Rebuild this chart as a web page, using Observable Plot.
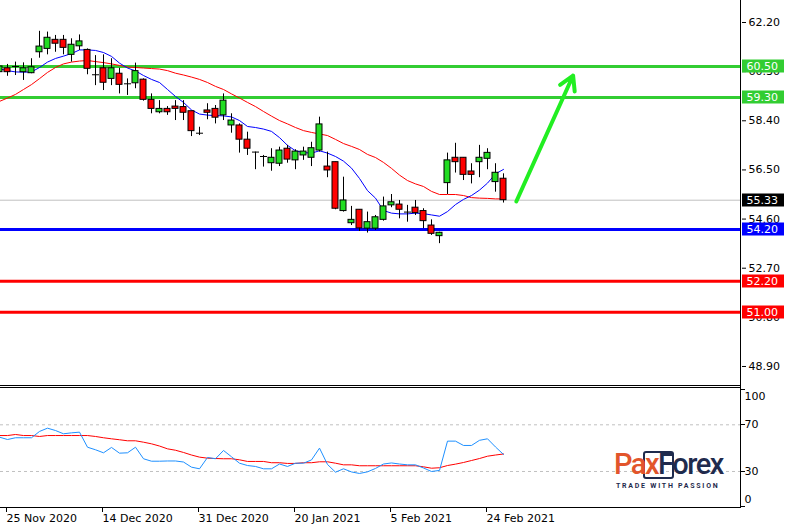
<!DOCTYPE html>
<html><head><meta charset="utf-8">
<script src="https://cdn.jsdelivr.net/npm/d3@7"></script>
<script src="https://cdn.jsdelivr.net/npm/@observablehq/plot@0.6"></script>
<style>
body{margin:0;background:#fff;}
#chart{position:relative;width:788px;height:528px;overflow:hidden;background:#fff;font-family:"DejaVu Sans",sans-serif;}
#chart svg{display:block;}
#logo{position:absolute;left:614px;top:450px;font-family:Roboto,sans-serif;font-weight:500;font-size:29px;line-height:29px;letter-spacing:-1.5px;color:#1f2b4d;white-space:nowrap;}
#logo .o{color:#e2552b;}
#fbox{position:absolute;left:643px;top:451px;width:27px;height:24px;border:2px solid #1f2b4d;border-radius:3px;}
#tag{position:absolute;left:616px;top:482.5px;font-family:Roboto,sans-serif;font-weight:700;font-size:7px;line-height:7px;letter-spacing:1.75px;color:#1f2b4d;white-space:nowrap;}
</style></head><body><div id="chart"></div>
<script>
// ---- data ----
const dates = ["2020-11-24","2020-11-25","2020-11-27","2020-11-30",
"2020-12-01","2020-12-02","2020-12-03","2020-12-04","2020-12-07","2020-12-08","2020-12-09","2020-12-10","2020-12-11","2020-12-14","2020-12-15","2020-12-16","2020-12-17","2020-12-18","2020-12-21","2020-12-22","2020-12-23","2020-12-24","2020-12-28","2020-12-29","2020-12-30","2020-12-31",
"2021-01-04","2021-01-05","2021-01-06","2021-01-07","2021-01-08","2021-01-11","2021-01-12","2021-01-13","2021-01-14","2021-01-15","2021-01-19","2021-01-20","2021-01-21","2021-01-22","2021-01-25","2021-01-26","2021-01-27","2021-01-28","2021-01-29",
"2021-02-01","2021-02-02","2021-02-03","2021-02-04","2021-02-05","2021-02-08","2021-02-09","2021-02-10","2021-02-11","2021-02-12","2021-02-16","2021-02-17","2021-02-18","2021-02-19","2021-02-22","2021-02-23","2021-02-24","2021-02-25","2021-02-26"];
const openPx  = [60.28,60.43,60.50,60.28,60.24,61.05,61.18,61.53,61.53,60.95,61.28,61.14,60.18,60.43,60.02,60.22,59.83,59.85,59.99,59.21,58.73,58.86,58.95,58.93,58.77,57.92,58.80,58.86,58.61,58.22,58.22,57.67,57.19,57.02,56.76,56.74,57.32,56.87,57.06,56.97,57.25,56.63,56.80,54.91,54.44,54.96,54.23,54.23,54.57,55.13,55.16,54.87,55.04,54.91,54.35,53.94,55.99,56.97,56.97,56.44,56.80,56.93,56.03,56.16];
const highPx  = [60.60,60.58,60.67,60.64,60.80,61.86,61.83,61.70,61.70,61.57,61.72,61.18,60.92,60.95,60.80,60.43,60.02,60.63,60.02,59.44,59.18,58.95,59.18,59.18,58.77,58.15,59.06,58.99,59.44,58.67,58.28,57.96,57.19,57.06,57.32,57.38,57.45,57.28,57.38,57.57,58.54,57.19,56.80,56.22,55.09,54.96,54.87,54.74,55.45,55.55,55.32,55.13,55.32,55.00,54.57,54.09,57.15,57.53,56.97,56.74,57.45,57.32,56.74,56.35];
const lowPx   = [60.15,60.12,60.15,59.96,60.22,60.82,60.95,61.05,60.95,60.67,61.12,60.18,59.76,59.57,59.76,59.44,59.38,59.64,59.16,58.67,58.67,58.61,58.41,58.41,57.79,57.83,58.44,58.28,58.41,57.92,57.15,57.06,56.51,56.61,56.45,56.63,56.76,56.51,56.87,56.63,57.19,56.20,54.96,54.87,54.35,54.12,54.06,54.16,54.52,55.04,54.61,54.48,54.74,54.23,53.97,53.65,55.55,56.38,56.09,55.96,56.20,56.51,55.64,55.22];
const closePx = [60.50,60.28,60.50,60.43,60.47,61.27,61.61,61.38,61.22,61.34,61.47,60.41,60.18,59.87,60.43,59.79,59.83,60.32,59.21,58.86,58.86,58.73,58.86,58.71,58.00,57.92,58.71,58.52,59.18,58.41,57.67,57.32,57.19,57.02,56.97,57.25,56.90,57.21,57.21,57.34,58.26,56.48,55.00,55.32,54.57,54.24,54.48,54.67,55.09,55.25,54.96,54.87,54.83,54.52,54.03,54.07,56.87,56.80,56.31,56.31,56.97,57.16,56.39,55.33];
const maFast = [60.41,60.34,60.29,60.28,60.29,60.46,60.67,60.81,60.90,61.00,61.14,61.14,61.12,61.04,60.89,60.63,60.44,60.33,60.15,60.00,59.88,59.61,59.34,59.11,58.82,58.66,58.62,58.60,58.59,58.55,58.41,58.18,58.14,58.08,57.99,57.75,57.45,57.24,57.17,57.15,57.24,57.15,57.02,56.84,56.57,56.17,55.70,55.41,54.93,54.83,54.80,54.80,54.83,54.81,54.76,54.71,54.89,55.16,55.36,55.51,55.72,55.99,56.35,56.52];
const maSlow = [59.15,59.28,59.42,59.61,59.80,60.03,60.27,60.46,60.60,60.67,60.71,60.73,60.69,60.65,60.60,60.54,60.48,60.46,60.44,60.42,60.40,60.34,60.24,60.17,60.09,60.00,59.88,59.73,59.61,59.44,59.28,59.11,58.95,58.76,58.58,58.41,58.28,58.14,58.02,57.95,57.89,57.83,57.68,57.52,57.41,57.29,57.10,56.98,56.79,56.56,56.30,56.09,55.96,55.86,55.67,55.55,55.55,55.55,55.51,55.43,55.41,55.40,55.38,55.38];
const rsi = [59.4,57.4,58.9,58.9,58.9,64.3,67.1,65.1,62.3,63.1,63.7,50.8,48.6,46.0,50.6,45.7,46.0,50.8,40.9,38.8,38.8,39.0,39.0,38.1,33.7,32.3,42.0,40.9,48.0,42.6,37.1,35.1,34.3,32.3,32.3,36.4,34.3,37.1,37.1,39.9,50.0,36.0,29.4,32.3,29.6,28.3,29.7,32.6,36.4,37.3,36.4,35.7,35.7,33.0,30.0,30.9,56.0,56.0,52.3,52.3,56.7,58.0,51.0,44.6];
const rsiSignal = [60.8,60.8,61.7,60.8,60.8,60.0,60.8,60.8,60.8,60.8,60.8,60.8,60.0,58.9,58.0,57.2,56.3,56.3,55.1,53.7,51.8,49.4,48.2,46.3,44.1,42.3,41.4,41.1,40.9,40.9,40.0,38.6,38.6,38.6,37.5,37.5,36.9,36.9,37.5,37.5,38.3,38.3,37.1,35.7,35.7,34.9,34.9,34.9,34.9,34.9,34.9,34.9,34.9,34.0,32.8,33.2,35.1,36.3,37.7,39.4,41.1,43.1,44.1,45.0];
const tickDates = ["2020-11-25","2020-12-14","2020-12-31","2021-01-20","2021-02-05","2021-02-24"];
const priceTicks = [62.20,60.30,58.40,56.50,54.60,52.70,50.80,48.90];
const levels = [60.50,59.30,54.20,52.20,51.00];
const levelColors = ["#32cd32","#32cd32","#0000ff","#ff0000","#ff0000"];
const lastPrice = 55.33;
const rsiLevels = [30,70];
const rsiTicks = [0,30,70,100];
const arrowStart = {i:64.6, price:55.28};
const arrowEnd = {i:71.7, price:60.15};

// ---- build ----
const bars = dates.map((date,i)=>({i,date,open:openPx[i],high:highPx[i],low:lowPx[i],close:closePx[i],
  maFast:maFast[i],maSlow:maSlow[i],rsi:rsi[i],rsiSignal:rsiSignal[i]}));
const bodies = bars.filter(d=>d.open!==d.close);
const dojis = bars.filter(d=>d.open===d.close);
const levelRows = levels.map((v,k)=>({v,c:levelColors[k]}));
const tickIdx = tickDates.map(d=>dates.indexOf(d));
const fmtDate = d3.utcFormat("%-d %b %Y");
const W=788, AXX=740.5;
const xDomain=[0.125, 92.75];
const GREEN="#22dd22", RED="#ff0000";
const font={fontFamily:"DejaVu Sans, sans-serif",fontSize:"11px",background:"#fff",color:"#000"};
const rsiShift = v => v===100 ? 7 : v===0 ? -7 : 0;

const main = Plot.plot({
  width:W, height:386, marginTop:0, marginBottom:2, marginLeft:0, marginRight:47,
  x:{type:"linear", domain:xDomain, axis:null},
  y:{domain:[48.204,63.051], axis:null},
  color:{type:"identity"},
  style:font,
  marks:[
    Plot.ruleY([lastPrice],{stroke:"#c0c0c0",strokeWidth:1}),
    Plot.ruleY(levelRows,{y:"v",stroke:"c",strokeWidth:3}),
    Plot.line(bars,{x:"i",y:"maSlow",stroke:"#ff0000",strokeWidth:1,clip:true}),
    Plot.line(bars,{x:"i",y:"maFast",stroke:"#0000ff",strokeWidth:1,clip:true}),
    Plot.ruleX(bars,{x:"i",y1:"low",y2:"high",stroke:"#000",strokeWidth:1,clip:true}),
    Plot.rect(bodies,{x1:d=>d.i-0.375,x2:d=>d.i+0.375,y1:"open",y2:"close",
      fill:d=>d.close>d.open?GREEN:RED,stroke:"#000",strokeWidth:1,clip:true}),
    Plot.ruleY(dojis,{y:"open",x1:d=>d.i-0.375,x2:d=>d.i+0.5,stroke:"#000",strokeWidth:1,clip:true}),
    Plot.arrow([{a:arrowStart,b:arrowEnd}],{x1:d=>d.a.i,y1:d=>d.a.price,x2:d=>d.b.i,y2:d=>d.b.price,
      stroke:"#22ee22",strokeWidth:4,headLength:6,headAngle:60}),
    Plot.axisY({anchor:"right",ticks:priceTicks,tickFormat:d=>d.toFixed(2),tickSize:4,tickPadding:3,label:null})
  ]
});

const lower = Plot.plot({
  width:W, height:142, marginTop:2, marginBottom:21, marginLeft:0, marginRight:47,
  x:{type:"linear", domain:xDomain, axis:null},
  y:{domain:[-0.86,101.1], axis:null},
  style:font,
  marks:[
    Plot.ruleY(rsiLevels,{stroke:"#c0c0c0",strokeDasharray:"3,3"}),
    Plot.line(bars,{x:"i",y:"rsiSignal",stroke:"#ff0000",strokeWidth:1}),
    Plot.line(bars,{x:"i",y:"rsi",stroke:"#1e90ff",strokeWidth:1}),
    Plot.axisX({anchor:"bottom",ticks:tickIdx,tickFormat:i=>fmtDate(new Date(dates[i])),tickSize:5,tickPadding:2,textAnchor:"start",dx:-1,label:null}),
    Plot.text(rsiTicks,{y:d=>d,text:d=>String(d),frameAnchor:"right",textAnchor:"start",dx:3,fill:"#000"})
  ]
});

// fine-tune oscillator end labels (100 drawn below top edge, 0 above bottom edge)
d3.select(lower).selectAll("text").each(function(){
  const t=this.textContent;
  if(t==="100"||t==="0"){
    d3.select(this).attr("transform",(d3.select(this).attr("transform")||"")+` translate(0,${rsiShift(+t)})`);
  }
});

// frame lines & price labels
const ms = d3.select(main);
ms.append("line").attr("x1",AXX).attr("x2",AXX).attr("y1",0).attr("y2",386).attr("stroke","#000");
ms.append("line").attr("x1",0).attr("x2",AXX).attr("y1",385.5).attr("y2",385.5).attr("stroke","#000");
const ys = main.scale("y");
const boxes = levels.map((v,k)=>({v,c:levelColors[k]})).concat([{v:lastPrice,c:"#000"}]);
boxes.forEach(b=>{
  const y=ys.apply(b.v);
  ms.append("rect").attr("x",742).attr("y",Math.round(y)-6.5).attr("width",42).attr("height",13).attr("fill",b.c);
  ms.append("text").attr("x",746.5).attr("y",Math.round(y)).attr("dy","0.36em").attr("fill","#fff")
    .attr("text-anchor","start").attr("font-size","11px").text(b.v.toFixed(2));
});
const ls = d3.select(lower);
ls.append("line").attr("x1",AXX).attr("x2",AXX).attr("y1",0).attr("y2",122).attr("stroke","#000");
ls.append("line").attr("x1",0).attr("x2",AXX).attr("y1",1.5).attr("y2",1.5).attr("stroke","#000");
ls.append("line").attr("x1",0).attr("x2",AXX).attr("y1",121.5).attr("y2",121.5).attr("stroke","#000");
// oscillator tick marks on the right edge
const ry = lower.scale("y");
rsiTicks.forEach(v=>{
  const y=Math.round(ry.apply(v))+0.5;
  ls.append("line").attr("x1",741).attr("x2",745).attr("y1",y).attr("y2",y).attr("stroke","#000");
});

const chart=document.getElementById("chart");
chart.appendChild(main);
chart.appendChild(lower);
chart.insertAdjacentHTML("beforeend",
 '<div id="fbox"></div><div id="logo"><span class="o">Pax</span>Forex</div><div id="tag">TRADE WITH PASSION</div>');
</script></body></html>
